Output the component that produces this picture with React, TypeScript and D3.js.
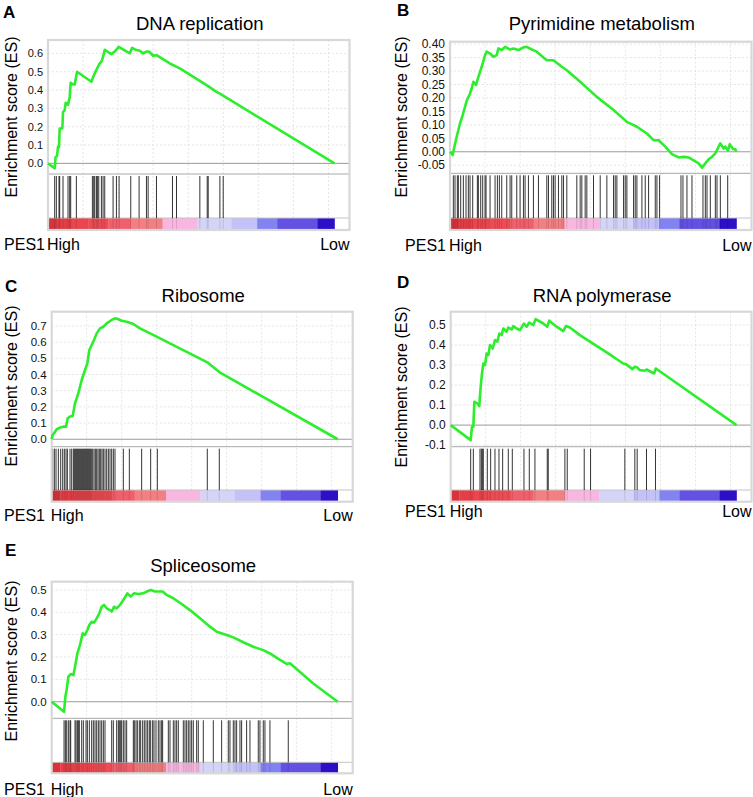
import React from "react";
import * as d3 from "d3";

// ranked list: ~20430 genes, plot axis runs a bit past the end
const rankMax = 21500;
const listSize = 20430;
const rankTicks = [0, 2500, 5000, 7500, 10000, 12500, 15000, 17500, 20000];

// colour bar of the ranked metric (high -> low)
const barEnds = [613, 1634, 2860, 4290, 5925, 8172, 10624, 13075, 14914, 16344, 19204, 20430];
const barColors = [
	"#d9323a", "#e63e46", "#eb464e", "#ee4c55", "#f0606c", "#f37f82",
	"#f8b6e0", "#d4d4f8", "#c2c2f8", "#8282f2", "#6450e2", "#2c10c8",
];

// A: DNA replication
const esA: [number, number][] = [
	[0, 0], [476, -0.027], [547, 0.036], [643, 0.04], [714, 0.09], [785, 0.09], [833, 0.19], [1023, 0.19],
	[1071, 0.28], [1190, 0.29], [1261, 0.33], [1428, 0.32], [1547, 0.36], [1618, 0.44], [1785, 0.43],
	[1904, 0.43], [2071, 0.5], [3094, 0.445], [3213, 0.47], [3451, 0.51], [3689, 0.545], [3808, 0.555],
	[3927, 0.58], [4046, 0.62], [4522, 0.596], [4760, 0.61], [5046, 0.636], [5831, 0.6], [5998, 0.63],
	[6307, 0.618], [6545, 0.614], [6783, 0.6], [7021, 0.61], [7211, 0.61], [7497, 0.587], [7735, 0.59],
	[8687, 0.545], [9401, 0.518], [11305, 0.427], [12019, 0.39], [12257, 0.38], [20430, 0],
];
const hitsA = [
	476, 595, 785, 833, 1071, 1428, 1547, 1618, 2023, 3165, 3261, 3332, 3451, 3522, 3618, 3808, 3927,
	4046, 4641, 4879, 5069, 5902, 6497, 7021, 7140, 7735, 8877, 9163, 10829, 11353, 11424, 12257, 12495,
];
const ticksA = [0, 0.1, 0.2, 0.3, 0.4, 0.5, 0.6];

// B: Pyrimidine metabolism
const esB: [number, number][] = [
	[0, 0], [190, -0.012], [286, 0.012], [476, 0.056], [714, 0.105], [904, 0.136], [1071, 0.167],
	[1190, 0.19], [1380, 0.21], [1547, 0.235], [1666, 0.26], [1856, 0.248], [1952, 0.266], [2142, 0.297],
	[2332, 0.328], [2499, 0.359], [2618, 0.372], [2856, 0.365], [3094, 0.353], [3332, 0.359],
	[3451, 0.384], [3689, 0.378], [3927, 0.39], [4284, 0.38], [4522, 0.384], [4879, 0.378], [5236, 0.388],
	[5474, 0.39], [5831, 0.38], [6188, 0.372], [6664, 0.35], [6902, 0.34], [7378, 0.34], [7973, 0.316],
	[8330, 0.303], [9282, 0.26], [10472, 0.204], [11662, 0.155], [12614, 0.111], [13090, 0.099],
	[13328, 0.093], [14042, 0.068], [14518, 0.043], [14875, 0.043], [15351, 0.019], [15827, -0.009],
	[16303, -0.021], [16660, -0.019], [17017, -0.021], [17255, -0.028], [17731, -0.043], [17969, -0.059],
	[18207, -0.043], [18445, -0.028], [18683, -0.019], [18921, -0.006], [19159, 0.019], [19278, 0.031],
	[19516, 0.012], [19635, 0.019], [19825, 0.004], [19944, 0.028], [20182, 0.01], [20349, 0.009], [20430, 0],
];
const hitsB = [
	238, 357, 524, 595, 762, 952, 1142, 1309, 1428, 1618, 1952, 2023, 2190, 2332, 2499, 2570, 2856, 3213,
	3380, 3522, 3689, 4046, 4284, 4403, 4760, 4998, 5236, 5355, 5593, 5950, 6307, 6902, 7021, 7259, 7378,
	7497, 7735, 7973, 8092, 8330, 9044, 9282, 9401, 9639, 9758, 10234, 10710, 11186, 11662, 11781, 11900,
	12376, 12495, 12614, 13090, 13209, 13328, 13685, 13923, 14161, 14637, 14756, 14946, 16470, 16612,
	16898, 17255, 18040, 18207, 18326, 18564, 18921, 19040, 19278, 19802,
];
const ticksB = [-0.05, 0, 0.05, 0.1, 0.15, 0.2, 0.25, 0.3, 0.35, 0.4];

// C: Ribosome
const esC: [number, number][] = [
	[0, 0], [71, 0.027], [167, 0.037], [357, 0.062], [595, 0.072], [833, 0.078], [1023, 0.078],
	[1142, 0.13], [1309, 0.14], [1499, 0.144], [1666, 0.222], [1904, 0.284], [2142, 0.366], [2380, 0.428],
	[2547, 0.469], [2689, 0.551], [2856, 0.582], [3023, 0.613], [3213, 0.654], [3451, 0.685], [3689, 0.695],
	[3927, 0.716], [4284, 0.737], [4522, 0.747], [4760, 0.741], [4998, 0.732], [5355, 0.726], [5831, 0.712],
	[6307, 0.685], [7497, 0.634], [11115, 0.475], [11971, 0.415], [20430, 0],
];
const hitsC = [
	71, 190, 309, 476, 643, 785, 904, 1023, 1119, 1309, 1428, 1547, 1618, 1690, 1761, 1833, 1904, 1975,
	2047, 2118, 2190, 2261, 2332, 2404, 2475, 2547, 2618, 2689, 2761, 2832, 2927, 3023, 3118, 3213, 3308,
	3403, 3499, 3594, 3689, 3808, 3927, 4046, 4165, 4284, 4403, 4522, 5117, 5545, 6426, 7069, 7545,
	11115, 11971,
];
const ticksC = [0, 0.1, 0.2, 0.3, 0.4, 0.5, 0.6, 0.7];

// D: RNA polymerase
const esD: [number, number][] = [
	[0, 0], [1428, -0.075], [1523, -0.008], [1618, -0.008], [1690, 0.117], [1904, 0.108], [2047, 0.095],
	[2094, 0.15], [2166, 0.208], [2237, 0.258], [2332, 0.308], [2451, 0.3], [2570, 0.358], [2689, 0.35],
	[2808, 0.4], [2999, 0.383], [3165, 0.425], [3332, 0.417], [3475, 0.458], [3641, 0.45], [3760, 0.483],
	[3998, 0.467], [4117, 0.488], [4355, 0.478], [4474, 0.495], [4712, 0.483], [4950, 0.475], [5236, 0.508],
	[5426, 0.492], [5617, 0.513], [5902, 0.5], [6069, 0.53], [6616, 0.508], [6902, 0.492], [7045, 0.522],
	[7568, 0.492], [8044, 0.47], [8235, 0.495], [8520, 0.488], [9234, 0.45], [11614, 0.342], [12328, 0.308],
	[12519, 0.305], [12995, 0.28], [13161, 0.292], [13328, 0.288], [13518, 0.275], [13875, 0.272],
	[13994, 0.278], [14542, 0.258], [14661, 0.283], [20430, 0],
];
const hitsD = [
	1428, 1618, 2094, 2190, 2261, 2332, 2618, 2856, 3165, 3451, 3713, 4117, 4403, 5236, 5617, 6021, 6902,
	6973, 8163, 8330, 9544, 9996, 12447, 13161, 13328, 13994, 14637,
];
const ticksD = [-0.1, 0, 0.1, 0.2, 0.3, 0.4, 0.5];

// E: Spliceosome
const esE: [number, number][] = [
	[0, 0], [881, -0.045], [976, 0.022], [1071, 0.055], [1190, 0.112], [1357, 0.124], [1547, 0.119],
	[1666, 0.157], [1833, 0.216], [2023, 0.254], [2213, 0.306], [2380, 0.299], [2547, 0.321], [2689, 0.343],
	[2856, 0.358], [3023, 0.354], [3213, 0.373], [3403, 0.396], [3570, 0.425], [3737, 0.433], [3927, 0.418],
	[4165, 0.41], [4284, 0.403], [4451, 0.425], [4641, 0.418], [4879, 0.433], [5117, 0.455], [5403, 0.485],
	[5641, 0.47], [5879, 0.485], [6188, 0.482], [6545, 0.485], [6783, 0.493], [7069, 0.5], [7378, 0.493],
	[7925, 0.493], [8211, 0.478], [8687, 0.463], [9282, 0.437], [9877, 0.41], [10591, 0.373], [11305, 0.336],
	[11781, 0.313], [12495, 0.299], [12971, 0.288], [13685, 0.266], [14399, 0.246], [15113, 0.231],
	[15589, 0.216], [16303, 0.187], [16779, 0.169], [17017, 0.172], [18683, 0.082], [20430, 0],
];
const hitsE = [
	881, 976, 1071, 1190, 1309, 1357, 1666, 1737, 1833, 1904, 1975, 2142, 2261, 2451, 2547, 2689, 2856,
	2975, 3094, 3213, 3332, 3451, 3570, 3689, 3808, 4284, 4403, 4641, 4760, 4831, 4927, 4998, 5117, 5236,
	5355, 5831, 5902, 6021, 6117, 6259, 6355, 6497, 6616, 6735, 6854, 6973, 7069, 7211, 7307, 7449, 7616,
	7735, 7854, 7925, 8330, 8449, 8687, 8806, 8925, 9044, 9401, 9520, 9639, 9758, 9877, 9996, 10115,
	10353, 10472, 10829, 11543, 12138, 12614, 12733, 12971, 13090, 13209, 13447, 13566, 13923, 14161,
	14756, 14875, 15113, 15232, 15589, 16898,
];
const ticksE = [0, 0.1, 0.2, 0.3, 0.4, 0.5];

const FONT = "'Liberation Sans', Arial, Helvetica, sans-serif";

interface Panel {
	letter: string;
	title: string;
	es: [number, number][];
	hits: number[];
	ticks: number[];
	digits: number;
	yDomain: [number, number];
	// layout
	x0: number;
	x1: number;
	top: number;
	esBottom: number;
	barTop: number;
	barBottom: number;
	tickFont: number;
	letterX: number;
	letterY: number;
	titleY: number;
	yLabelX: number;
	yLabelY: number;
	textY: number;
	pesEnd: number;
}

const panels: Panel[] = [
	{
		letter: "A", title: "DNA replication", es: esA, hits: hitsA, ticks: ticksA, digits: 1,
		yDomain: [-0.058, 0.673],
		x0: 48, x1: 349.5, top: 40, esBottom: 174, barTop: 218, barBottom: 230, tickFont: 11,
		letterX: 3, letterY: 18, titleY: 30, yLabelX: 16.5, yLabelY: 117, textY: 250, pesEnd: 45,
	},
	{
		letter: "B", title: "Pyrimidine metabolism", es: esB, hits: hitsB, ticks: ticksB, digits: 2,
		yDomain: [-0.08, 0.409],
		x0: 450, x1: 751.5, top: 41.7, esBottom: 173.3, barTop: 218, barBottom: 230, tickFont: 12,
		letterX: 397, letterY: 16, titleY: 30, yLabelX: 406.5, yLabelY: 117, textY: 251, pesEnd: 446,
	},
	{
		letter: "C", title: "Ribosome", es: esC, hits: hitsC, ticks: ticksC, digits: 1,
		yDomain: [-0.046, 0.788],
		x0: 51.7, x1: 352.7, top: 311.7, esBottom: 446.7, barTop: 490, barBottom: 501.7, tickFont: 11.5,
		letterX: 5, letterY: 292, titleY: 301.5, yLabelX: 16.5, yLabelY: 386, textY: 521, pesEnd: 45,
	},
	{
		letter: "D", title: "RNA polymerase", es: esD, hits: hitsD, ticks: ticksD, digits: 1,
		yDomain: [-0.108, 0.567],
		x0: 450.7, x1: 751.5, top: 311.7, esBottom: 446.7, barTop: 490, barBottom: 501.7, tickFont: 12,
		letterX: 397, letterY: 288, titleY: 301.5, yLabelX: 406.5, yLabelY: 387, textY: 516.5, pesEnd: 446,
	},
	{
		letter: "E", title: "Spliceosome", es: esE, hits: hitsE, ticks: ticksE, digits: 1,
		yDomain: [-0.074, 0.537],
		x0: 51.7, x1: 352.7, top: 581.7, esBottom: 718.3, barTop: 762.3, barBottom: 773.3, tickFont: 11.5,
		letterX: 5, letterY: 556, titleY: 571.5, yLabelX: 16.5, yLabelY: 661, textY: 794.5, pesEnd: 45,
	},
];

function GseaPanel({ p }: { p: Panel }) {
	const x = d3.scaleLinear().domain([0, rankMax]).range([p.x0, p.x1]);
	const y = d3.scaleLinear().domain(p.yDomain).range([p.esBottom, p.top]);
	const line = d3
		.line<[number, number]>()
		.x((d) => x(d[0]))
		.y((d) => y(d[1]));
	const segs = barEnds.map((e, i) => ({ s: i === 0 ? 0 : barEnds[i - 1], e, c: barColors[i] }));
	const cx = (p.x0 + p.x1) / 2;

	return (
		<g>
			<text x={p.letterX} y={p.letterY} fontSize={17} fontWeight="bold" fontFamily={FONT}>
				{p.letter}
			</text>
			<text x={cx + 1} y={p.titleY} fontSize={18.5} textAnchor="middle" fontFamily={FONT}>
				{p.title}
			</text>
			<text
				transform={`translate(${p.yLabelX},${p.yLabelY}) rotate(-90)`}
				fontSize={16}
				textAnchor="middle"
				fontFamily={FONT}
			>
				Enrichment score (ES)
			</text>

			{/* plot background */}
			<rect x={p.x0} y={p.top} width={p.x1 - p.x0} height={p.barBottom - p.top} fill="#fff" />

			{/* grid */}
			<g stroke="#dedede" strokeWidth={0.8} strokeDasharray="2,2">
				{rankTicks.slice(1).map((t) => (
					<line key={t} x1={x(t)} x2={x(t)} y1={p.top} y2={p.barBottom} />
				))}
				{p.ticks
					.filter((t) => t !== 0)
					.map((t) => (
						<line key={t} x1={p.x0} x2={p.x1} y1={y(t)} y2={y(t)} />
					))}
			</g>
			<line x1={p.x0} x2={p.x1} y1={y(0)} y2={y(0)} stroke="#9a9a9a" strokeWidth={1} />
			<line x1={p.x0} x2={p.x1} y1={p.esBottom} y2={p.esBottom} stroke="#a8a8a8" strokeWidth={1} />

			{/* ranked metric colour bar */}
			{segs.map((s) => (
				<rect
					key={s.e}
					x={x(s.s)}
					y={p.barTop}
					width={x(s.e) - x(s.s) + 0.3}
					height={p.barBottom - p.barTop}
					fill={s.c}
				/>
			))}
			<line x1={p.x0} x2={p.x1} y1={p.barTop} y2={p.barTop} stroke="#c4c4c4" strokeWidth={1} />

			{/* gene set hits */}
			<g stroke="#111" strokeWidth={1}>
				{p.hits.map((h, i) => (
					<line key={i} x1={x(h)} x2={x(h)} y1={p.esBottom + 2} y2={p.barTop} strokeOpacity={0.85} />
				))}
			</g>
			<g stroke="#000" strokeWidth={1} strokeOpacity={0.12}>
				{p.hits.map((h, i) => (
					<line key={i} x1={x(h)} x2={x(h)} y1={p.barTop} y2={p.barBottom} />
				))}
			</g>

			{/* frame */}
			<rect
				x={p.x0}
				y={p.top}
				width={p.x1 - p.x0}
				height={p.barBottom - p.top}
				fill="none"
				stroke="#d8d8d8"
				strokeWidth={2.2}
			/>

			{/* y ticks */}
			{p.ticks.map((t) => (
				<text
					key={t}
					x={p.x0 - 5}
					y={y(t)}
					dy="0.35em"
					fontSize={p.tickFont}
					textAnchor="end"
					fontFamily={FONT}
					fill="#111"
				>
					{t.toFixed(p.digits)}
				</text>
			))}

			{/* running enrichment score */}
			<path d={line(p.es) ?? ""} fill="none" stroke="#2cee2c" strokeWidth={2.6} strokeLinejoin="round" />

			<text x={p.pesEnd} y={p.textY} fontSize={16} textAnchor="end" fontFamily={FONT}>
				PES1
			</text>
			<text x={p.x0 - 1} y={p.textY} fontSize={16} fontFamily={FONT}>
				High
			</text>
			<text x={p.x1} y={p.textY} fontSize={16} textAnchor="end" fontFamily={FONT}>
				Low
			</text>
		</g>
	);
}

export default function App() {
	return (
		<svg
			width={753}
			height={797}
			viewBox="0 0 753 797"
			style={{ position: "absolute", left: 0, top: 0, background: "#fff" }}
		>
			{panels.map((p) => (
				<GseaPanel key={p.letter} p={p} />
			))}
		</svg>
	);
}
